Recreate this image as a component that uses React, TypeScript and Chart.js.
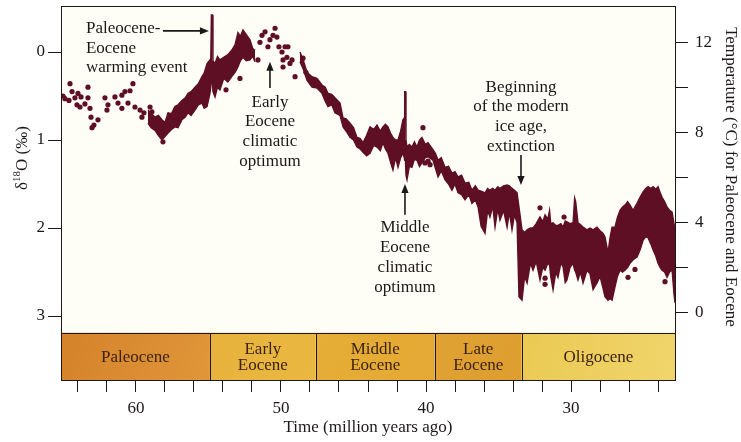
import React, { useEffect, useRef } from "react";
import { Chart, registerables } from "chart.js";

Chart.register(...registerables);

const SERIF = '"Liberation Serif", "DejaVu Serif", "Times New Roman", serif';
const INK = "#1c1817";
const MAROON = "#5e0f23";
const STRIP_INK = "#3b2312";

// Axis extents: time runs right-to-left, δ18O increases downward.
const AGE_LEFT = 65.17;
const AGE_RIGHT = 22.83;
const D18O_TOP = -0.523;
const D18O_BOTTOM = 3.727;
const STRIP_TOP = 3.19; // level where the epoch strip starts
const TEMP_TOP = 13.64;
const TEMP_BOTTOM = -2.98;

const ageTicks = [24, 26, 28, 30, 32, 34, 36, 38, 40, 42, 44, 46, 48, 50, 52, 54, 56, 58, 60, 62, 64];
const ageLabels = [30, 40, 50, 60];
const d18oTicks = [0, 1, 2, 3];
const tempTicks = [0, 2, 4, 6, 8, 10, 12];
const tempLabels = [0, 4, 8, 12];

// Benthic δ18O record: upper and lower edge of the measurement band (‰)
const bandAge = [
  59.17, 58.95, 58.69, 58.45, 58.21, 58.0, 57.79, 57.55, 57.31, 57.1,
  56.83, 56.6, 56.41, 56.2, 55.93, 55.7, 55.45, 55.3, 55.1, 54.9,
  54.84, 54.8, 54.73, 54.69, 54.55, 54.38, 54.21, 53.95, 53.66, 53.4,
  53.17, 52.97, 52.8, 52.62, 52.4, 52.14, 51.95, 51.79, 51.7,
  48.69, 48.45, 48.21, 47.86, 47.52, 47.17, 46.95, 46.76, 46.5, 46.28,
  45.93, 45.72, 45.5, 45.24, 45.0, 44.76, 44.55, 44.34, 44.1, 43.86,
  43.6, 43.38, 43.15, 42.97, 42.8, 42.62, 42.45, 42.28, 42.1, 41.93,
  41.75, 41.59, 41.5, 41.47, 41.42, 41.38, 41.31, 41.15, 40.97, 40.8,
  40.62, 40.45, 40.28, 40.05, 39.86, 39.52, 39.35, 39.17, 38.95, 38.69,
  38.45, 38.21, 38.0, 37.79, 37.55, 37.31, 37.05, 36.83, 36.6, 36.41,
  36.2, 35.93, 35.75, 35.59, 35.4, 35.24, 35.05, 34.9, 34.65, 34.41,
  34.25, 34.07, 33.9, 33.72, 33.59, 33.38, 33.2, 33.03, 32.8, 32.62,
  32.4, 32.14, 31.95, 31.79, 31.6, 31.48, 31.4, 31.24, 31.05, 30.9,
  30.7, 30.55, 30.4, 30.28, 30.07, 29.86, 29.75, 29.68, 29.52, 29.35,
  29.17, 28.9, 28.69, 28.48, 28.21, 28.0, 27.8, 27.66, 27.45, 27.3,
  27.17, 26.97, 26.8, 26.62, 26.45, 26.28, 26.1, 25.93, 25.72, 25.45,
  25.24, 25.03, 24.85, 24.69, 24.5, 24.34, 24.15, 24.0, 23.85, 23.72,
  23.55, 23.38, 23.2, 23.03, 22.9, 22.83,
];
const bandTop = [
  0.66, 0.7, 0.74, 0.72, 0.77, 0.8, 0.69, 0.7, 0.62, 0.6,
  0.55, 0.52, 0.47, 0.45, 0.4, 0.36, 0.28, 0.24, 0.13, 0.09,
  0.08, -0.42, -0.42, 0.1, 0.13, 0.05, 0.09, 0.06, 0.03, -0.02,
  -0.08, -0.22, -0.18, -0.25, -0.2, -0.14, -0.04, -0.02, null,
  0.0, 0.1, 0.23, 0.28, 0.3, 0.375, 0.4, 0.47, 0.48, 0.52,
  0.58, 0.75, 0.76, 0.81, 0.86, 0.97, 0.98, 1.03, 0.95, 0.85,
  0.88, 0.83, 0.9, 0.85, 0.82, 0.85, 0.92, 0.97, 1.0, 1.0,
  0.9, 0.77, 0.75, 0.45, 0.45, 1.0, 1.08, 1.05, 1.08, 1.02,
  1.08, 1.0, 0.97, 1.05, 1.03, 1.11, 1.15, 1.23, 1.2, 1.31,
  1.3, 1.375, 1.36, 1.42, 1.4, 1.49, 1.48, 1.57, 1.52, 1.57,
  1.58, 1.6, 1.55, 1.57, 1.55, 1.57, 1.53, 1.55, 1.52, 1.51,
  1.52, 1.55, 1.57, 1.6, 1.76, 2.02, 2.05, 2.02, 2.0, 2.0,
  1.95, 1.875, 1.93, 1.85, 1.9, 1.8, 1.95, 1.94, 1.97, 1.97,
  1.95, 1.99, 1.92, 1.93, 1.95, 1.94, 1.66, 1.7, 1.94, 1.96,
  1.99, 2.02, 2.0, 2.02, 1.99, 2.03, 2.06, 2.1, 2.28, 2.1,
  1.99, 1.99, 1.88, 1.8, 1.76, 1.74, 1.7, 1.74, 1.8, 1.72,
  1.65, 1.59, 1.55, 1.53, 1.55, 1.53, 1.56, 1.53, 1.6, 1.65,
  1.7, 1.76, 1.8, 1.82, 1.95, 2.0,
];
const bandBottom = [
  0.81, 0.86, 0.89, 0.95, 1.0, 0.96, 0.92, 0.88, 0.85, 0.86,
  0.77, 0.74, 0.69, 0.72, 0.66, 0.6, 0.58, 0.64, 0.62, 0.47,
  0.4, 0.32, 0.32, 0.45, 0.51, 0.4, 0.43, 0.3, 0.34, 0.28,
  0.23, 0.17, 0.1, 0.06, 0.1, 0.09, 0.05, 0.11, null,
  0.11, 0.2, 0.32, 0.4, 0.41, 0.47, 0.56, 0.62, 0.6, 0.69,
  0.72, 0.85, 0.9, 0.97, 1.0, 1.08, 1.1, 1.14, 1.18, 1.15,
  1.06, 1.08, 1.12, 1.03, 1.1, 1.15, 1.25, 1.34, 1.2, 1.31,
  1.2, 1.15, 1.2, 1.23, 1.23, 1.4, 1.45, 1.3, 1.31, 1.22,
  1.23, 1.3, 1.26, 1.2, 1.19, 1.23, 1.32, 1.42, 1.35, 1.45,
  1.5, 1.57, 1.5, 1.6, 1.62, 1.68, 1.62, 1.72, 1.68, 1.76,
  1.98, 2.06, 1.8, 1.875, 1.75, 1.99, 1.78, 1.91, 1.8, 1.99,
  1.82, 2.02, 1.85, 1.94, 2.78, 2.82, 2.55, 2.625, 2.4, 2.48,
  2.38, 2.59, 2.45, 2.48, 2.4, 2.42, 2.55, 2.7, 2.5, 2.56,
  2.4, 2.44, 2.62, 2.59, 2.45, 2.4, 2.48, 2.5, 2.59, 2.5,
  2.625, 2.48, 2.52, 2.7, 2.625, 2.55, 2.68, 2.78, 2.82, 2.8,
  2.82, 2.67, 2.55, 2.48, 2.5, 2.48, 2.45, 2.4, 2.36, 2.33,
  2.25, 2.14, 2.1, 2.11, 2.18, 2.25, 2.32, 2.4, 2.45, 2.48,
  2.5, 2.56, 2.5, 2.48, 2.75, 2.85,
];

// Isolated samples plotted as dots
const dotAge = [
  65.03, 64.9, 64.62, 64.55, 64.41, 64.21, 64.07, 64.0, 63.86, 63.79,
  63.52, 63.31, 63.31, 63.17, 63.1, 63.03, 62.9, 62.62, 62.14, 62.0,
  61.93, 61.45, 61.24, 60.97, 60.97, 60.76, 60.55, 60.41, 60.21, 60.07,
  59.72, 59.59, 59.45, 59.03, 58.9, 58.9, 58.14,
  53.79, 52.83, 51.59, 51.45, 51.31, 51.1, 50.9, 50.76, 50.55, 50.41,
  50.28, 50.14, 49.93, 49.86, 49.86, 49.72, 49.59, 49.52, 49.38, 49.24,
  49.03, 48.48, 48.28,
  40.21, 40.07, 39.86, 39.72,
  32.14, 30.48, 31.79, 31.79, 26.07, 25.59, 23.52,
];
const dotD18O = [
  0.5, 0.53, 0.55, 0.36, 0.45, 0.52, 0.6, 0.47, 0.625, 0.51,
  0.59, 0.4, 0.52, 0.64, 0.74, 0.86, 0.83, 0.77, 0.52, 0.66,
  0.6, 0.51, 0.58, 0.49, 0.64, 0.45, 0.58, 0.44, 0.36, 0.625,
  0.66, 0.74, 0.69, 0.625, 0.68, 0.74, 1.02,
  0.43, 0.3, 0.09, -0.11, -0.19, -0.23, -0.06, -0.14, -0.19, -0.27,
  -0.17, -0.06, 0.0, 0.09, 0.17, -0.06, 0.06, -0.06, 0.13, 0.09,
  0.28, 0.07, 0.23,
  0.86, 1.26, 1.24, 1.28,
  1.77, 1.875, 2.57, 2.64, 2.56, 2.47, 2.61,
];

// Geological epochs along the time axis
const epochNames = ["Paleocene", "Early\nEocene", "Middle\nEocene", "Late\nEocene", "Oligocene"];
const epochOlder = [65.17, 54.9, 47.6, 39.4, 33.4];
const epochYounger = [54.9, 47.6, 39.4, 33.4, 22.83];
const epochFill = [
  ["#d5822a", "#e0963a"],
  ["#e8b23c", "#e9b840"],
  ["#e6ae36", "#e4a934"],
  ["#e0a232", "#dd9e2f"],
  ["#ebc952", "#f0d56c"],
];

// Callouts: text block anchored at its first line, plus an arrow (from → to)
const callouts = [
  { lines: ["Paleocene-", "Eocene", "warming event"], age: 63.45, d: -0.27, align: "left", arrow: [58.14, -0.24, 54.97, -0.24] },
  { lines: ["Early", "Eocene", "climatic", "optimum"], age: 50.76, d: 0.57, align: "center", arrow: [50.76, 0.41, 50.76, 0.11] },
  { lines: ["Middle", "Eocene", "climatic", "optimum"], age: 41.45, d: 2.0, align: "center", arrow: [41.45, 1.85, 41.45, 1.5] },
  { lines: ["Beginning", "of the modern", "ice age,", "extinction"], age: 33.45, d: 0.4, align: "center", arrow: [33.45, 1.17, 33.45, 1.51] },
];

function bandDatasets() {
  const segments: { top: { x: number; y: number }[]; bottom: { x: number; y: number }[] }[] = [];
  let cur: any = null;
  bandAge.forEach((a, i) => {
    const t = bandTop[i];
    const b = bandBottom[i];
    if (t == null || b == null) {
      cur = null;
      return;
    }
    if (!cur) {
      cur = { top: [], bottom: [] };
      segments.push(cur);
    }
    cur.top.push({ x: a, y: t });
    cur.bottom.push({ x: a, y: b });
  });
  const out: any[] = [];
  segments.forEach((s) => {
    out.push({
      data: s.top,
      borderColor: MAROON,
      borderWidth: 1.4,
      pointRadius: 0,
      tension: 0,
      fill: false,
    });
    out.push({
      data: s.bottom,
      borderColor: MAROON,
      borderWidth: 1.4,
      pointRadius: 0,
      tension: 0,
      fill: "-1",
      backgroundColor: MAROON,
    });
  });
  return out;
}

function drawArrow(ctx: CanvasRenderingContext2D, x0: number, y0: number, x1: number, y1: number) {
  const ang = Math.atan2(y1 - y0, x1 - x0);
  const len = 9;
  const half = 3.6;
  const c = Math.cos(ang);
  const s = Math.sin(ang);
  ctx.beginPath();
  ctx.moveTo(x0, y0);
  ctx.lineTo(x1 - c * len * 0.7, y1 - s * len * 0.7);
  ctx.stroke();
  ctx.beginPath();
  ctx.moveTo(x1, y1);
  ctx.lineTo(x1 - c * len - s * half, y1 - s * len + c * half);
  ctx.lineTo(x1 - c * len + s * half, y1 - s * len - c * half);
  ctx.closePath();
  ctx.fill();
}

const decorPlugin = {
  id: "decor",
  beforeDraw(chart: any) {
    const { ctx, chartArea: ca, scales } = chart;
    const x = scales.x;
    const stripTop = scales.y.getPixelForValue(STRIP_TOP);
    ctx.save();
    ctx.fillStyle = "#fefdf6";
    ctx.fillRect(ca.left, ca.top, ca.right - ca.left, stripTop - ca.top);
    epochNames.forEach((_, i) => {
      const x0 = x.getPixelForValue(epochOlder[i]);
      const x1 = x.getPixelForValue(epochYounger[i]);
      const g = ctx.createLinearGradient(x0, stripTop, x1, ca.bottom);
      g.addColorStop(0, epochFill[i][0]);
      g.addColorStop(1, epochFill[i][1]);
      ctx.fillStyle = g;
      ctx.fillRect(x0, stripTop, x1 - x0, ca.bottom - stripTop);
    });
    ctx.restore();
  },
  afterDraw(chart: any) {
    const { ctx, chartArea: ca, scales } = chart;
    const x = scales.x;
    const y = scales.y;
    const stripTop = Math.round(y.getPixelForValue(STRIP_TOP)) + 0.5;
    ctx.save();

    // frame, strip top edge and epoch dividers
    ctx.strokeStyle = INK;
    ctx.lineWidth = 1;
    ctx.strokeRect(Math.round(ca.left) + 0.5, Math.round(ca.top) + 0.5, Math.round(ca.right - ca.left), Math.round(ca.bottom - ca.top));
    ctx.beginPath();
    ctx.moveTo(ca.left, stripTop);
    ctx.lineTo(ca.right, stripTop);
    epochOlder.slice(1).forEach((a) => {
      const px = Math.round(x.getPixelForValue(a)) + 0.5;
      ctx.moveTo(px, stripTop);
      ctx.lineTo(px, ca.bottom);
    });
    ctx.stroke();

    // epoch names
    ctx.fillStyle = STRIP_INK;
    ctx.font = `17px ${SERIF}`;
    ctx.textAlign = "center";
    ctx.textBaseline = "middle";
    const midY = (stripTop + ca.bottom) / 2;
    epochNames.forEach((name, i) => {
      const cx = (x.getPixelForValue(epochOlder[i]) + x.getPixelForValue(epochYounger[i])) / 2;
      const parts = name.split("\n");
      const lh = 16.5;
      parts.forEach((p, j) => {
        ctx.fillText(p, cx, midY + (j - (parts.length - 1) / 2) * lh + 1);
      });
    });

    // callouts
    ctx.fillStyle = INK;
    ctx.strokeStyle = INK;
    ctx.lineWidth = 1.6;
    callouts.forEach((c) => {
      const tx = x.getPixelForValue(c.age);
      const ty = y.getPixelForValue(c.d);
      ctx.textAlign = c.align as CanvasTextAlign;
      c.lines.forEach((line, j) => ctx.fillText(line, tx, ty + j * 19.8));
      const [a0, d0, a1, d1] = c.arrow;
      drawArrow(ctx, x.getPixelForValue(a0), y.getPixelForValue(d0), x.getPixelForValue(a1), y.getPixelForValue(d1));
    });

    // bottom axis title
    ctx.textAlign = "center";
    ctx.fillText("Time (million years ago)", (ca.left + ca.right) / 2, ca.bottom + 48);

    // right axis title
    ctx.save();
    ctx.translate(ca.right + 55, ca.top + 171);
    ctx.rotate(Math.PI / 2);
    ctx.fillText("Temperature (°C) for Paleocene and Eocene", 0, 0);
    ctx.restore();

    // left axis title with superscript mass number
    ctx.save();
    ctx.translate(ca.left - 40, ca.top + 152);
    ctx.rotate(-Math.PI / 2);
    const big = `17px ${SERIF}`;
    const small = `11px ${SERIF}`;
    ctx.textBaseline = "alphabetic";
    ctx.textAlign = "left";
    ctx.font = big;
    const w1 = ctx.measureText("δ").width;
    const w3 = ctx.measureText("O (‰)").width;
    ctx.font = small;
    const w2 = ctx.measureText("18").width;
    let px = -(w1 + w2 + w3) / 2;
    ctx.font = big;
    ctx.fillText("δ", px, 6);
    px += w1;
    ctx.font = small;
    ctx.fillText("18", px, -1);
    px += w2;
    ctx.font = big;
    ctx.fillText("O (‰)", px, 6);
    ctx.restore();

    ctx.restore();
  },
};

const tickFont = { family: SERIF, size: 17 };

export default function App() {
  const ref = useRef<HTMLCanvasElement | null>(null);

  useEffect(() => {
    if (!ref.current) return;
    const dots = dotAge.map((a, i) => ({ x: a, y: dotD18O[i] }));
    const chart = new Chart(ref.current, {
      type: "line",
      data: {
        datasets: [
          ...bandDatasets(),
          {
            data: dots,
            showLine: false,
            pointRadius: 2.6,
            pointBorderWidth: 0,
            pointBackgroundColor: MAROON,
            borderColor: MAROON,
            fill: false,
          },
        ],
      },
      options: {
        responsive: false,
        animation: false,
        events: [],
        layout: { padding: { top: 6, left: 0, right: 0, bottom: 0 } },
        plugins: { legend: { display: false }, tooltip: { enabled: false } },
        scales: {
          x: {
            type: "linear",
            position: "bottom",
            min: AGE_RIGHT,
            max: AGE_LEFT,
            reverse: true,
            afterBuildTicks: (s: any) => {
              s.ticks = ageTicks.map((v) => ({ value: v }));
            },
            afterFit: (s: any) => {
              s.height = 62;
              s.paddingLeft = 0;
              s.paddingRight = 0;
            },
            grid: { drawOnChartArea: false, drawTicks: true, tickLength: 12, color: INK, lineWidth: 1 },
            border: { display: true, color: INK, width: 1 },
            ticks: {
              callback: (v: any) => (ageLabels.includes(Number(v)) ? String(v) : ""),
              color: INK,
              font: tickFont,
              padding: 6,
              maxRotation: 0,
              autoSkip: false,
            },
          },
          y: {
            type: "linear",
            position: "left",
            min: D18O_TOP,
            max: D18O_BOTTOM,
            reverse: true,
            afterBuildTicks: (s: any) => {
              s.ticks = d18oTicks.map((v) => ({ value: v }));
            },
            afterFit: (s: any) => {
              s.width = 61;
              s.paddingTop = 0;
              s.paddingBottom = 0;
            },
            grid: { drawOnChartArea: false, drawTicks: true, tickLength: 13, color: INK, lineWidth: 1 },
            border: { display: true, color: INK, width: 1 },
            ticks: { callback: (v: any) => String(v), color: INK, font: tickFont, padding: 3, autoSkip: false },
          },
          temp: {
            type: "linear",
            position: "right",
            min: TEMP_BOTTOM,
            max: TEMP_TOP,
            afterBuildTicks: (s: any) => {
              s.ticks = tempTicks.map((v) => ({ value: v }));
            },
            afterFit: (s: any) => {
              s.width = 66;
              s.paddingTop = 0;
              s.paddingBottom = 0;
            },
            grid: { drawOnChartArea: false, drawTicks: true, tickLength: 13, color: INK, lineWidth: 1 },
            border: { display: true, color: INK, width: 1 },
            ticks: {
              callback: (v: any) => (tempLabels.includes(Number(v)) ? String(v) : ""),
              color: INK,
              font: tickFont,
              padding: 7,
              autoSkip: false,
            },
          },
        },
      },
      plugins: [decorPlugin],
    } as any);
    return () => chart.destroy();
  }, []);

  return (
    <div style={{ position: "fixed", left: 0, top: 0, width: 741, height: 442, background: "#ffffff" }}>
      <canvas ref={ref} width={741} height={442} style={{ display: "block", width: 741, height: 442 }} />
    </div>
  );
}
